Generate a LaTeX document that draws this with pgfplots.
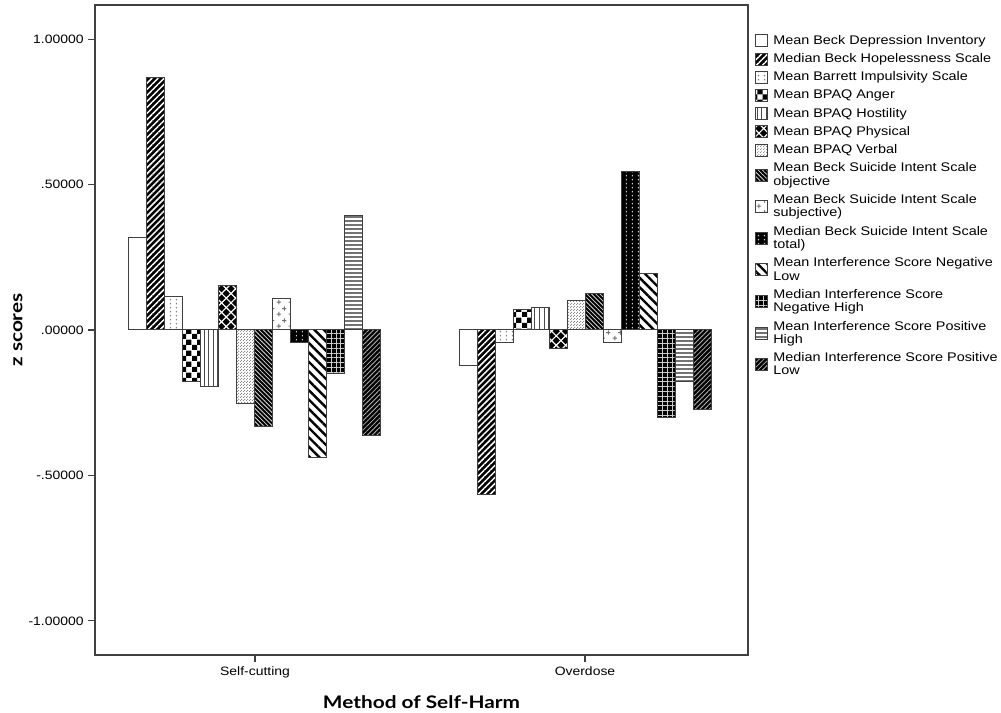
\documentclass[border=0pt]{standalone}
\usepackage{fontspec}
\setmainfont{Liberation Sans}[FakeStretch=1.15]
\newfontfamily\labfont{Lato}[FakeStretch=1.2]
\usepackage{pgfplots}
\pgfplotsset{compat=1.18}
\usetikzlibrary{patterns,patterns.meta}

\pgfdeclarepattern{name=checker, type=uncolored,
  bottom left={\pgfpoint{0pt}{0pt}}, top right={\pgfpoint{8pt}{8pt}},
  tile size={\pgfpoint{8pt}{8pt}},
  code={\pgfpathrectangle{\pgfpoint{0pt}{0pt}}{\pgfpoint{4pt}{4pt}}%
        \pgfpathrectangle{\pgfpoint{4pt}{4pt}}{\pgfpoint{4pt}{4pt}}%
        \pgfusepath{fill}}}
\pgfdeclarepattern{name=dotcols, type=uncolored,
  bottom left={\pgfpoint{0pt}{0pt}}, top right={\pgfpoint{4.5pt}{3pt}},
  tile size={\pgfpoint{4.5pt}{3pt}},
  code={\pgfpathrectangle{\pgfpoint{1.6pt}{0.6pt}}{\pgfpoint{0.9pt}{1.3pt}}%
        \pgfusepath{fill}}}
\pgfdeclarepattern{name=stipple, type=uncolored,
  bottom left={\pgfpoint{0pt}{0pt}}, top right={\pgfpoint{2pt}{2pt}},
  tile size={\pgfpoint{2pt}{2pt}},
  code={\pgfpathrectangle{\pgfpoint{0pt}{0pt}}{\pgfpoint{0.7pt}{0.7pt}}%
        \pgfpathrectangle{\pgfpoint{1pt}{1pt}}{\pgfpoint{0.7pt}{0.7pt}}%
        \pgfusepath{fill}}}
\pgfdeclarepattern{name=pluses, type=uncolored,
  bottom left={\pgfpoint{0pt}{0pt}}, top right={\pgfpoint{9pt}{9pt}},
  tile size={\pgfpoint{9pt}{9pt}},
  code={\pgfsetlinewidth{0.8pt}%
   \pgfpathmoveto{\pgfpoint{0.5pt}{2.25pt}}\pgfpathlineto{\pgfpoint{4pt}{2.25pt}}%
   \pgfpathmoveto{\pgfpoint{2.25pt}{0.5pt}}\pgfpathlineto{\pgfpoint{2.25pt}{4pt}}%
   \pgfpathmoveto{\pgfpoint{5pt}{6.75pt}}\pgfpathlineto{\pgfpoint{8.5pt}{6.75pt}}%
   \pgfpathmoveto{\pgfpoint{6.75pt}{5pt}}\pgfpathlineto{\pgfpoint{6.75pt}{8.5pt}}%
   \pgfusepath{stroke}}}

\pgfplotsset{sqlegend/.style={legend image code/.code={\draw[##1] (0pt,-4.5pt) rectangle (9pt,4.5pt);}}}

\begin{document}
\begin{tikzpicture}
\useasboundingbox (-71.25pt,-43.5pt) rectangle (679.5pt,491.25pt);
\begin{axis}[
  at={(0,0)}, anchor=south west,
  scale only axis, width=489.75pt, height=487.5pt,
  xmin=-0.4848, xmax=1.4939, ymin=-1.117, ymax=1.117,
  ybar=0pt, bar width=13.5pt,
  xtick={0,1}, xticklabels={Self-cutting,Overdose},
  ytick={-1,-0.5,0,0.5,1},
  yticklabels={-1.00000,-.50000,.00000,.50000,1.00000},
  tick align=outside, xtick pos=bottom, ytick pos=left,
  major tick length=5pt,
  tick style={black!75, line width=0.8pt},
  tick label style={font=\fontsize{9.1}{10}\selectfont, black},
  axis line style={black!75, line width=1.1pt},
  every axis x label/.style={at={(axis description cs:0.5,-0.0718)}, anchor=center},
  every axis y label/.style={at={(axis description cs:-0.118,0.5)}, rotate=90, anchor=center},
  xlabel={\labfont\bfseries\fontsize{13}{15}\selectfont Method of Self-Harm},
  ylabel={\labfont\bfseries\fontsize{13}{15}\selectfont z scores},
  every axis plot/.append style={draw=black!75, line width=0.75pt},
  every axis plot post/.append style={sqlegend},
  legend cell align=left,
  legend style={at={(axis description cs:1.0107,0.958)}, anchor=north west,
    draw=none, fill=none, inner sep=0pt, row sep=1.4pt, column sep=1.8pt,
    font=\fontsize{9.4}{10}\selectfont, cells={align=left}},
]
\addplot[fill=white] coordinates {(0,0.318) (1,-0.123)};
\addlegendentry{Mean Beck Depression Inventory}
\addplot[preaction={fill=black}, pattern={Lines[angle=45,distance=3.2pt,line width=1.1pt]}, pattern color=white] coordinates {(0,0.867) (1,-0.567)};
\addlegendentry{Median Beck Hopelessness Scale}
\addplot[preaction={fill=white}, pattern=dotcols, pattern color=black!50] coordinates {(0,0.115) (1,-0.044)};
\addlegendentry{Mean Barrett Impulsivity Scale}
\addplot[preaction={fill=white}, pattern=checker, pattern color=black] coordinates {(0,-0.178) (1,0.072)};
\addlegendentry{Mean BPAQ Anger}
\addplot[preaction={fill=white}, pattern={Lines[angle=90,distance=3.4pt,line width=0.7pt]}, pattern color=black!70] coordinates {(0,-0.195) (1,0.078)};
\addlegendentry{Mean BPAQ Hostility}
\addplot[preaction={fill=black}, pattern={Hatch[angle=45,distance=5pt,line width=0.9pt]}, pattern color=white] coordinates {(0,0.152) (1,-0.063)};
\addlegendentry{Mean BPAQ Physical}
\addplot[preaction={fill=white}, pattern=stipple, pattern color=black!45] coordinates {(0,-0.254) (1,0.103)};
\addlegendentry{Mean BPAQ Verbal}
\addplot[preaction={fill=black}, pattern={Lines[angle=-45,distance=2.3pt,line width=0.6pt]}, pattern color=white!85!black] coordinates {(0,-0.332) (1,0.126)};
\addlegendentry{Mean Beck Suicide Intent Scale\\objective}
\addplot[preaction={fill=white}, pattern=pluses, pattern color=black!55] coordinates {(0,0.107) (1,-0.042)};
\addlegendentry{Mean Beck Suicide Intent Scale\\subjective)}
\addplot[preaction={fill=black}, pattern=dotcols, pattern color=white!80!black] coordinates {(0,-0.044) (1,0.544)};
\addlegendentry{Median Beck Suicide Intent Scale\\total)}
\addplot[preaction={fill=white}, pattern={Lines[angle=-45,distance=5pt,line width=1.8pt]}, pattern color=black] coordinates {(0,-0.437) (1,0.195)};
\addlegendentry{Mean Interference Score Negative\\Low}
\addplot[preaction={fill=black}, pattern={Hatch[angle=0,distance=3.6pt,line width=0.7pt]}, pattern color=white!80!black] coordinates {(0,-0.149) (1,-0.301)};
\addlegendentry{Median Interference Score\\Negative High}
\addplot[preaction={fill=white}, pattern={Lines[angle=0,distance=3pt,line width=0.9pt]}, pattern color=black!55] coordinates {(0,0.393) (1,-0.178)};
\addlegendentry{Mean Interference Score Positive\\High}
\addplot[preaction={fill=black}, pattern={Lines[angle=45,distance=2.5pt,line width=0.6pt]}, pattern color=black!30] coordinates {(0,-0.363) (1,-0.273)};
\addlegendentry{Median Interference Score Positive\\Low}
\end{axis}
\end{tikzpicture}
\end{document}
